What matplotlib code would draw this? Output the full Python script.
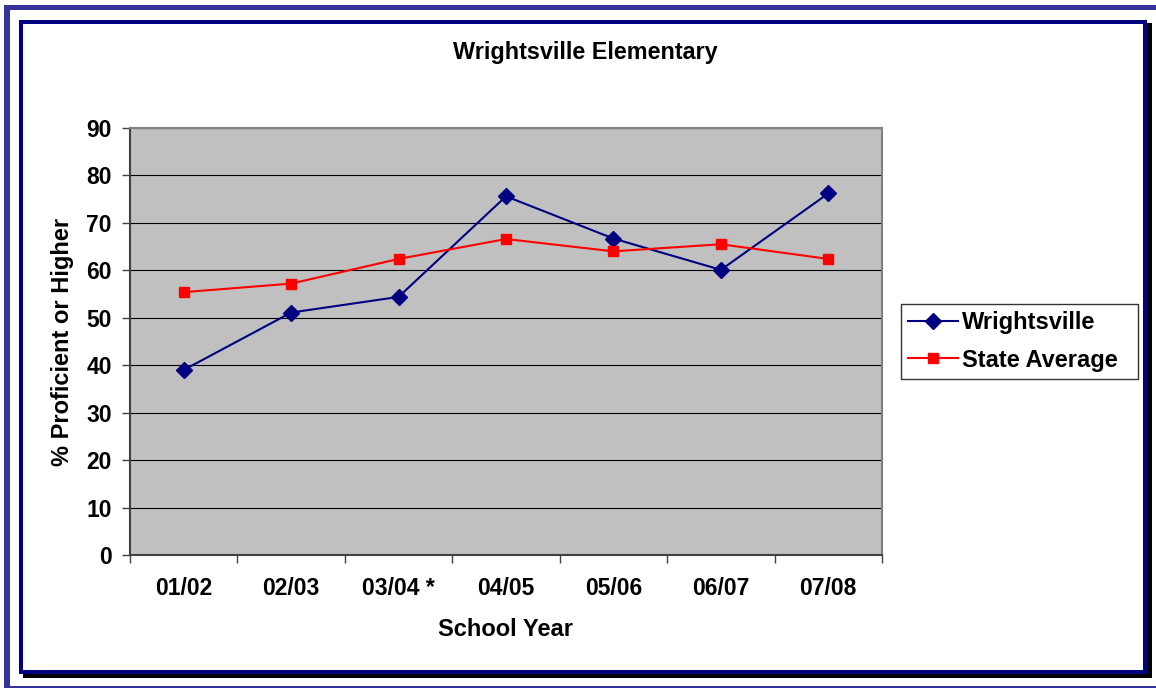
import matplotlib
matplotlib.use("Agg")
import matplotlib.pyplot as plt
from matplotlib.patches import Rectangle
import numpy as np

years = ["01/02", "02/03", "03/04 *", "04/05", "05/06", "06/07", "07/08"]
wrightsville = [39.0, 51.1, 54.4, 75.6, 66.7, 60.1, 76.2]
state_avg = [55.4, 57.2, 62.4, 66.6, 64.0, 65.5, 62.4]
yticks = [0, 10, 20, 30, 40, 50, 60, 70, 80, 90]

W, H = 1156, 688
plt.rcParams['font.family'] = ['Liberation Sans', 'DejaVu Sans']
plt.rcParams['font.weight'] = 'bold'

fig = plt.figure(figsize=(W / 100, H / 100), dpi=100)
fig.patch.set_facecolor('white')


def prect(x0, y0, x1, y1, color, z=0):
    r = Rectangle((x0 / W, 1 - y1 / H), (x1 - x0) / W, (y1 - y0) / H,
                  transform=fig.transFigure, facecolor=color, edgecolor='none', zorder=z)
    fig.add_artist(r)

# outer blue frame
prect(5, 5, 1156, 10, '#333399')
prect(4, 5, 10, 688, '#333399')
prect(4, 686, 1156, 688, '#333399')
# shadow
prect(1147, 23, 1152, 678, 'black')
prect(23, 674, 1152, 678, 'black')
# inner navy frame
prect(19, 20, 1147, 24, '#000080')
prect(19, 20, 23, 674, '#000080')
prect(1143, 20, 1147, 674, '#000080')
prect(19, 670, 1147, 674, '#000080')

# axes
ax = fig.add_axes([130 / W, 1 - 555 / H, (882 - 130) / W, (555 - 128) / H])
ax.set_facecolor('#C0C0C0')
x = np.arange(len(years))
ax.plot(x, wrightsville, color='#000080', lw=1.5, marker='D', ms=8,
        label='Wrightsville', zorder=3)
ax.plot(x, state_avg, color='#FF0000', lw=1.5, marker='s', ms=7,
        label='State Average', zorder=3)

ax.set_xlim(-0.5, len(years) - 0.5)
ax.set_ylim(0, 90)
ax.set_yticks(yticks)
ax.set_yticklabels([str(v) for v in yticks], fontsize=16.5, fontweight='bold')
ax.set_xticks(x)
ax.set_xticklabels(years, fontsize=16.5, fontweight='bold')
ax.set_xticks(np.arange(-0.5, len(years)), minor=True)
ax.tick_params(axis='x', which='major', length=0, pad=16)
ax.tick_params(axis='x', which='minor', length=6, width=1, color='#404040', direction='out')
ax.tick_params(axis='y', which='major', length=6, width=1, color='#404040', pad=7)
ax.yaxis.grid(True, color='black', lw=0.8)
ax.set_axisbelow(True)
for s in ax.spines.values():
    s.set_color('#808080')
    s.set_linewidth(1.5)
ax.spines['left'].set_color('#404040')
ax.spines['bottom'].set_color('#404040')

ax.set_xlabel('School Year', fontsize=17, fontweight='bold', va='center')
ax.xaxis.set_label_coords(0.5, (555 - 629) / 427)
ax.set_ylabel('% Proficient or Higher', fontsize=17, fontweight='bold', va='center')
ax.yaxis.set_label_coords((62 - 130) / 752, 0.5)

fig.text(585 / W, 1 - 53 / H, 'Wrightsville Elementary', ha='center', va='center',
         fontsize=16.8, fontweight='bold')

leg = ax.legend(loc='center left', bbox_to_anchor=(901 / W, 1 - 379 / H, (1138 - 901) / W, (379 - 304) / H),
                bbox_transform=fig.transFigure, mode='expand', frameon=True, fancybox=False,
                prop={'size': 17, 'weight': 'bold'}, handlelength=2.1, handletextpad=0.2,
                borderpad=0.3, labelspacing=0.6, borderaxespad=0)
leg.get_frame().set_edgecolor('black')
leg.get_frame().set_linewidth(1.0)

fig.savefig('out.png', dpi=100)
